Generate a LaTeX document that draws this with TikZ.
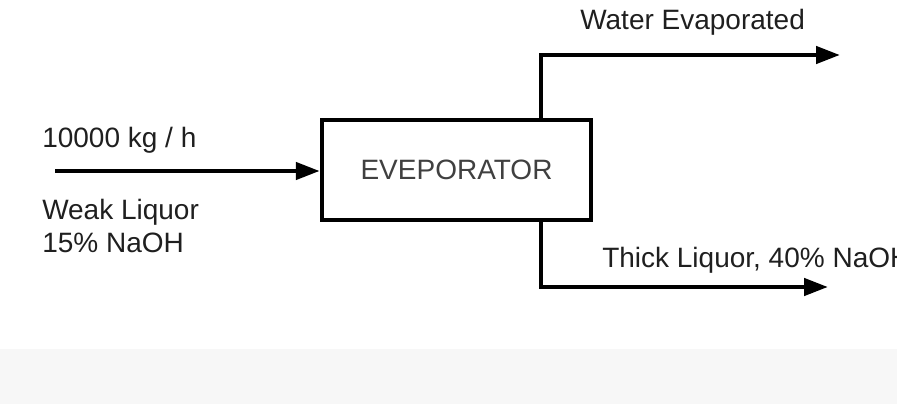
\documentclass[tikz,border=0pt]{standalone}
\usepackage{fontspec}
\setmainfont{Liberation Sans}
\usetikzlibrary{arrows.meta}

\def\riserx{84.5}

\begin{document}
\begin{tikzpicture}[x=1pt,y=-1pt,line width=4.5pt,draw=black,
	every node/.append style={font=\fontsize{28}{33}\selectfont}]
    \tikzstyle{unit}=[rectangle,draw=black,minimum width=269pt,minimum height=100pt,inner sep=0pt,text=black!75]
    \tikzstyle{stream}=[-{Triangle[length=24pt,width=17pt]},line join=miter]
    \tikzstyle{annot}=[anchor=west,inner sep=0pt,text=black!88,align=left]

    % Background and the grey band at the bottom
    \useasboundingbox (0,0) rectangle (897,404);
    \fill[black!3] (0,349) rectangle (897,404);

    % Draw the evaporator
    \node[unit] (evap) at (456.5,170) {EVEPORATOR};

    % End points of the streams
    \coordinate (feed) at (55,171);
    \coordinate (vapour) at (840,55);
    \coordinate (product) at (828,287);

    % Connect the streams with the evaporator
    \draw[stream] (feed) -- (feed -| evap.west);
    \draw[stream] ([xshift=\riserx]evap.north) |- (vapour);
    \draw[stream] ([xshift=\riserx]evap.south) |- (product);

    % Annotate the streams
    \node[annot] (rate) at (40,140) {10000 kg / h};
    \node[annot] (liq) at (40,226) {Weak Liquor\\15\% NaOH};
    \node[annot] (water) at (578,22) {Water Evaporated};
    \node[annot] (thick) at (600,260) {Thick Liquor, 40\% NaOH};
\end{tikzpicture}
\end{document}
